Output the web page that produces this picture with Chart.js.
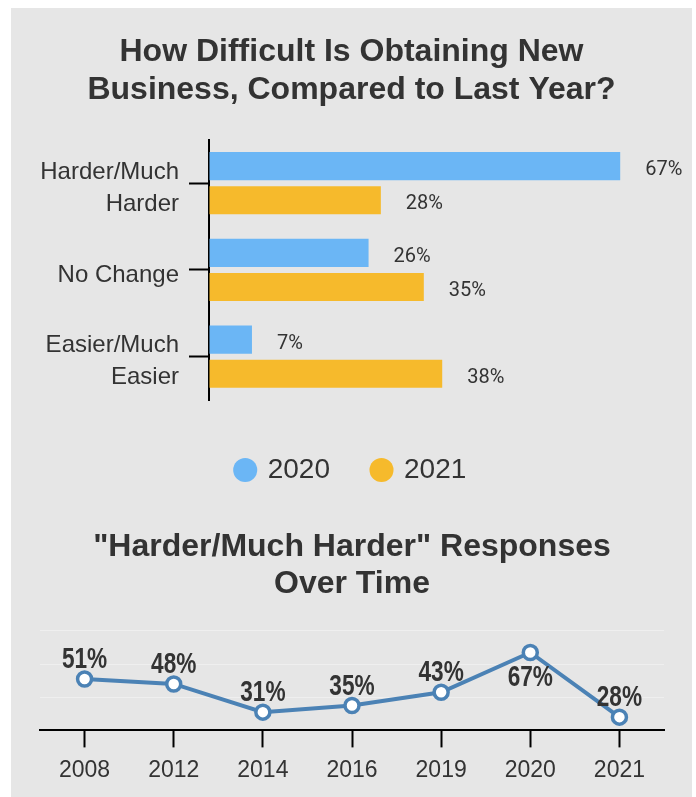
<!DOCTYPE html>
<html>
<head>
<meta charset="utf-8">
<script src="https://cdn.jsdelivr.net/npm/chart.js@4"></script>
<style>
    html, body { margin: 0; padding: 0; background: #ffffff; }
    #panel { position: absolute; left: 11px; top: 8px; width: 681px; height: 789px; background: #e6e6e6; }
    #barChart { position: absolute; left: 0; top: 0; }
    #trendChart { position: absolute; left: 0; top: 486px; }
</style>
</head>
<body>
<div id="panel">
    <canvas id="barChart" width="681" height="486"></canvas>
    <canvas id="trendChart" width="681" height="303"></canvas>
</div>
<script>
// Bar chart data
const barCategories = [['Harder/Much', 'Harder'], 'No Change', ['Easier/Much', 'Easier']];
const seriesNames = ['2020', '2021'];
const values2020 = [67, 26, 7];
const values2021 = [28, 35, 38];

// Trend data
const trendYears = ['2008', '2012', '2014', '2016', '2019', '2020', '2021'];
const trendValues = [51, 48, 31, 35, 43, 67, 28];

const textColor = '#333333';
Chart.defaults.font.family = "'Liberation Sans', Arial, sans-serif";
Chart.defaults.color = textColor;

// Value labels to the right of each bar
const barValueLabels = {
    id: 'barValueLabels',
    afterDatasetsDraw(chart) {
        const ctx = chart.ctx;
        ctx.save();
        ctx.font = '20px Roboto';
        ctx.fillStyle = textColor;
        ctx.textAlign = 'left';
        ctx.textBaseline = 'middle';
        chart.data.datasets.forEach((ds, i) => {
            chart.getDatasetMeta(i).data.forEach((bar, j) => {
                ctx.fillText(ds.data[j] + '%', bar.x + 25, bar.y + 4);
            });
        });
        ctx.restore();
    }
};

// Bold condensed labels above the points (below for the peak)
const pointValueLabels = {
    id: 'pointValueLabels',
    afterDatasetsDraw(chart) {
        const ctx = chart.ctx;
        const ds = chart.data.datasets[0];
        const peak = Math.max(...ds.data);
        chart.getDatasetMeta(0).data.forEach((pt, j) => {
            const below = ds.data[j] === peak;
            ctx.save();
            ctx.translate(pt.x, below ? pt.y + 26 : pt.y - 19);
            ctx.scale(0.78, 1);
            ctx.font = 'bold 29px "Liberation Sans"';
            ctx.fillStyle = textColor;
            ctx.textAlign = 'center';
            ctx.textBaseline = 'middle';
            ctx.fillText(ds.data[j] + '%', 0, 0);
            ctx.restore();
        });
    }
};

new Chart(document.getElementById('barChart'), {
    type: 'bar',
    data: {
        labels: barCategories,
        datasets: [{
            label: seriesNames[0],
            data: values2020,
            backgroundColor: '#6bb6f5'
        }, {
            label: seriesNames[1],
            data: values2021,
            backgroundColor: '#f6ba2c'
        }]
    },
    options: {
        indexAxis: 'y',
        responsive: false,
        animation: false,
        devicePixelRatio: 1,
        categoryPercentage: 0.785,
        barPercentage: 0.824,
        layout: { padding: 0 },
        scales: {
            x: {
                min: 0,
                max: 78.7,
                ticks: { display: false, stepSize: 25 },
                border: { display: false },
                grid: {
                    color: c => (c.tick && c.tick.value === 75) ? 'rgba(255,255,255,0.45)' : 'transparent',
                    tickColor: 'transparent',
                    tickLength: 13
                }
            },
            y: {
                afterFit: scale => { scale.width = 198; },
                ticks: {
                    color: textColor,
                    padding: 10,
                    labelOffset: 5,
                    font: { size: 24, lineHeight: 1.35 }
                },
                border: { color: '#000000', width: 2 },
                grid: {
                    offset: false,
                    drawOnChartArea: false,
                    tickLength: 20,
                    tickWidth: 2,
                    tickColor: '#000000'
                }
            }
        },
        plugins: {
            title: {
                display: true,
                text: ['How Difficult Is Obtaining New', 'Business, Compared to Last Year?'],
                color: textColor,
                font: { size: 32, weight: 'bold', lineHeight: 1.2 },
                padding: { top: 25, bottom: 30 }
            },
            legend: {
                position: 'bottom',
                labels: {
                    usePointStyle: true,
                    pointStyle: 'circle',
                    boxWidth: 17,
                    boxHeight: 17,
                    padding: 43,
                    color: textColor,
                    font: { size: 28 }
                }
            },
            tooltip: { enabled: false }
        }
    },
    plugins: [barValueLabels]
});

new Chart(document.getElementById('trendChart'), {
    type: 'line',
    data: {
        labels: trendYears,
        datasets: [{
            label: 'Harder/Much Harder',
            data: trendValues,
            borderColor: '#4b82b5',
            borderWidth: 4,
            tension: 0,
            clip: false,
            pointRadius: 7,
            pointBorderWidth: 3.5,
            pointBackgroundColor: '#ffffff',
            pointBorderColor: '#4b82b5'
        }]
    },
    options: {
        responsive: false,
        animation: false,
        devicePixelRatio: 1,
        layout: { padding: { left: 29, right: 28, top: 0, bottom: 4 } },
        scales: {
            x: {
                offset: true,
                ticks: { color: textColor, padding: 9, font: { size: 23 } },
                border: { color: '#000000', width: 2 },
                grid: {
                    offset: false,
                    drawOnChartArea: false,
                    tickLength: 17,
                    tickWidth: 2,
                    tickColor: '#000000'
                }
            },
            y: {
                min: 20,
                max: 80,
                ticks: { display: false, stepSize: 20 },
                border: { display: false },
                grid: { drawTicks: false, color: 'rgba(255,255,255,0.35)' }
            }
        },
        plugins: {
            title: {
                display: true,
                text: ['"Harder/Much Harder" Responses', 'Over Time'],
                color: textColor,
                font: { size: 32, weight: 'bold', lineHeight: 1.17 },
                padding: { top: 34, bottom: 28 }
            },
            legend: { display: false },
            tooltip: { enabled: false }
        }
    },
    plugins: [pointValueLabels]
});
</script>
</body>
</html>
